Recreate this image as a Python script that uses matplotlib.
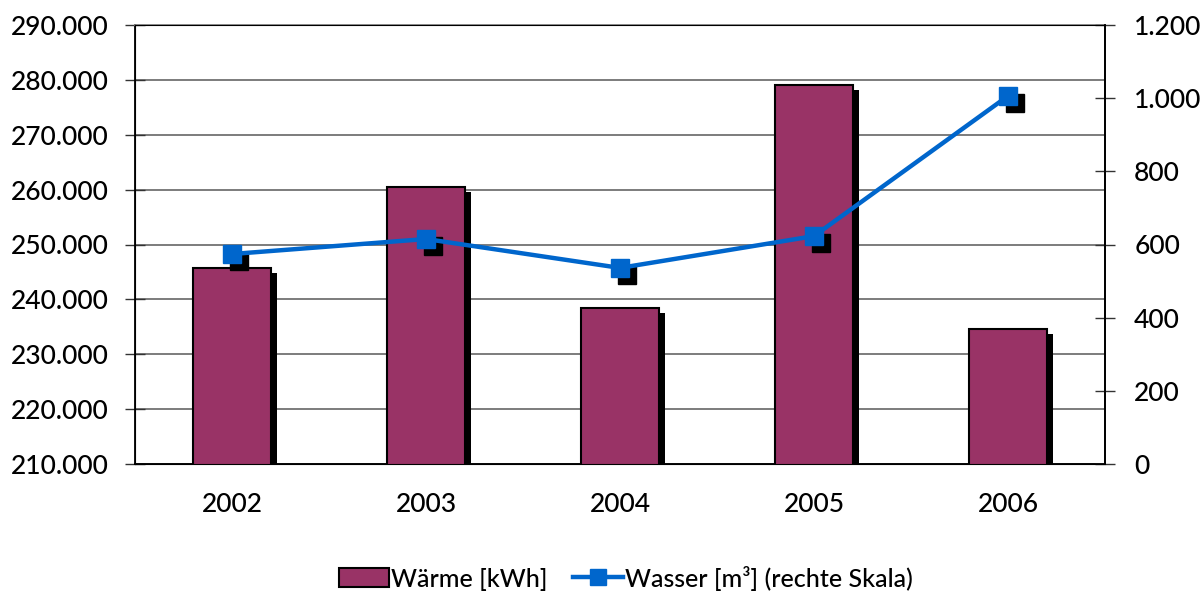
import matplotlib
matplotlib.use("Agg")
import matplotlib.pyplot as plt
import matplotlib.patheffects as pe
from matplotlib.transforms import offset_copy
from matplotlib.ticker import FuncFormatter, MultipleLocator
from matplotlib.patches import Patch
from matplotlib.lines import Line2D

years = ["2002", "2003", "2004", "2005", "2006"]
waerme = [245700, 260500, 238400, 279100, 234600]
wasser = [574, 615, 536, 623, 1006]

BAR_COLOR = "#993366"
LINE_COLOR = "#0066CC"
FS = 19

plt.rcParams["font.family"] = ["Lato", "DejaVu Sans"]
plt.rcParams["font.weight"] = "medium"


def dot_thousands(v, _pos):
    return f"{int(round(v)):,}".replace(",", ".")


fig = plt.figure(figsize=(12.04, 5.96), dpi=100)
ax = fig.add_axes([135 / 1204, 1 - 464 / 596, 970 / 1204, 439 / 596])
x = list(range(len(years)))

shadow = [pe.SimplePatchShadow(offset=(4.5, -3.5), shadow_rgbFace="black", alpha=1.0),
          pe.Normal()]
ax.bar(x, waerme, width=0.40, color=BAR_COLOR, edgecolor="black", linewidth=1.5,
       bottom=0, zorder=3, path_effects=shadow)
ax.set_ylim(210000, 290000)
ax.set_xlim(-0.5, 4.5)
ax.yaxis.set_major_locator(MultipleLocator(10000))
ax.yaxis.set_major_formatter(FuncFormatter(dot_thousands))
ax.grid(axis="y", color="#666666", linewidth=1.2, zorder=0)
ax.set_axisbelow(True)
ax.set_xticks(x)
ax.set_xticklabels(years)
ax.tick_params(axis="x", length=0, pad=20, labelsize=FS)
ax.tick_params(axis="y", direction="inout", length=14, width=1, labelsize=FS, pad=12,
               color="#333333")
for side in ("left", "bottom", "right", "top"):
    ax.spines[side].set_linewidth(1.3)
ax.spines["top"].set_color("#888888")

ax2 = ax.twinx()
ax2.set_ylim(0, 1200)
ax2.yaxis.set_major_locator(MultipleLocator(200))
ax2.yaxis.set_major_formatter(FuncFormatter(dot_thousands))
ax2.tick_params(axis="y", direction="inout", length=14, width=1, labelsize=FS, pad=14,
                color="#333333")
ax2.spines["right"].set_linewidth(1.3)

# marker shadows, shifted down-right
shift = offset_copy(ax2.transData, fig=fig, x=7, y=-7, units="dots")
ax2.plot(x, wasser, "s", color="black", markersize=13, transform=shift, zorder=4)
ax2.plot(x, wasser, "-s", color=LINE_COLOR, linewidth=3.2, markersize=13, zorder=5)

handles = [
    Patch(facecolor=BAR_COLOR, edgecolor="black", linewidth=1.5),
    Line2D([0], [0], color=LINE_COLOR, linewidth=3.2, marker="s", markersize=11),
]
fig.legend(handles, ["Wärme [kWh]", "Wasser [m³] (rechte Skala)"], loc="center",
           bbox_to_anchor=(0.52, 0.03), ncol=2, frameon=False, fontsize=18,
           handlelength=2.0, handleheight=0.8, handletextpad=0.1, columnspacing=1.0)

fig.savefig("out.png", dpi=100)
